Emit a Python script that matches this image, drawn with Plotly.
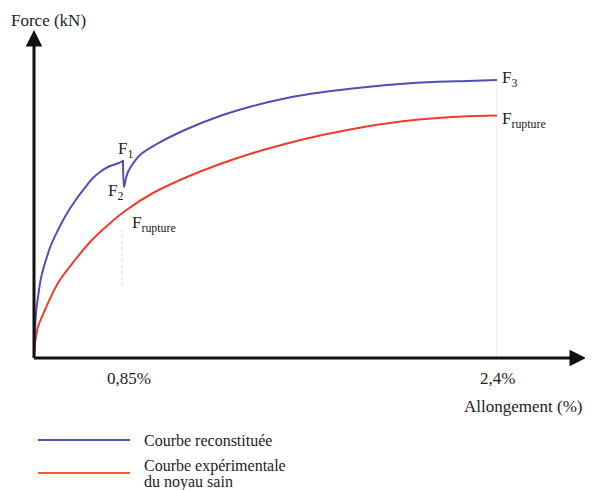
import plotly.graph_objects as go

# Schematic chart: x = allongement (schematic units), y = force (schematic units)
blue_x = [0, 1, 2, 4, 7, 11, 17, 24, 32, 41, 50, 58, 66, 74, 82, 88,
          89, 90, 92, 94, 98, 106, 121, 153, 186, 219, 253, 286, 333, 366, 399, 433, 463]
blue_y = [0, 25, 45, 61, 80, 95, 113, 128, 143, 157, 169, 179, 186, 191, 194, 196.5,
          198, 171, 180, 186, 193, 203, 213, 229, 242, 252, 260, 265.5, 271, 274, 276, 277, 278]

red_x = [0, 1, 4, 11, 24, 41, 58, 74, 91, 119, 153, 186, 219, 253, 286, 319, 352, 385, 418, 451, 463]
red_y = [0, 14, 31, 48, 75, 98, 118, 133, 147, 165, 181, 194, 205, 214.5, 222.5, 229, 234.5, 238.5, 241, 242.3, 242.5]

tick_pos = [88, 463]
tick_labels = ["0,85%", "2,4%"]

series_names = ["Courbe reconstituée", "Courbe expérimentale<br>du noyau sain"]
BLUE = "#4f4fb5"
RED = "#ec3c2c"
RED_LEG = "#f0602f"
FONT = "Liberation Serif"

# page body has an 8px margin: figure drawn at (8, 8) in the window
OFF = 8
W, H = 593 - OFF, 490 - OFF
X0, Y0 = 34 - OFF, 358 - OFF   # origin of the schematic axes, in figure pixels

fig = go.Figure()

# reference guide lines
fig.add_trace(go.Scatter(x=[tick_pos[1], tick_pos[1]], y=[0, red_y[-1] + 36], mode="lines",
                         line=dict(color="#e8e8e8", width=1), hoverinfo="skip", showlegend=False))
fig.add_trace(go.Scatter(x=[tick_pos[0], tick_pos[0]], y=[72, 128], mode="lines",
                         line=dict(color="#d0d0d0", width=1, dash="dot"), hoverinfo="skip", showlegend=False))

fig.add_trace(go.Scatter(x=red_x, y=red_y, mode="lines", line=dict(color=RED, width=2, shape="spline", smoothing=1.0),
                         name=series_names[1], showlegend=False))
fig.add_trace(go.Scatter(x=blue_x[:17], y=blue_y[:17], mode="lines", line=dict(color=BLUE, width=2, shape="spline", smoothing=1.0),
                         name=series_names[0], showlegend=False))
fig.add_trace(go.Scatter(x=blue_x[16:], y=blue_y[16:], mode="lines", line=dict(color=BLUE, width=2, shape="spline", smoothing=1.0),
                         name=series_names[0], showlegend=False))

ann = []
# axes with arrows
ann.append(dict(x=0, y=328, ax=0, ay=-1.5, xref="x", yref="y", axref="x", ayref="y",
                showarrow=True, arrowhead=2, arrowsize=1.1, arrowwidth=3, arrowcolor="#111", text=""))
ann.append(dict(x=552, y=0, ax=-1.5, ay=0, xref="x", yref="y", axref="x", ayref="y",
                showarrow=True, arrowhead=2, arrowsize=1.1, arrowwidth=3, arrowcolor="#111", text=""))

ann.append(dict(x=-25, y=338, xref="x", yref="y", text="Force (kN)", showarrow=False,
                xanchor="left", yanchor="middle", font=dict(family=FONT, size=17, color="#222")))
ann.append(dict(x=551, y=-48, xref="x", yref="y", text="Allongement (%)", showarrow=False,
                xanchor="right", yanchor="middle", font=dict(family=FONT, size=17, color="#222")))
for p, t, sh in zip(tick_pos, tick_labels, [7, 0]):
    ann.append(dict(x=p, y=-20, xref="x", yref="y", text=t, showarrow=False, xshift=sh,
                    xanchor="center", yanchor="middle", font=dict(family=FONT, size=17, color="#222")))

lab = dict(family=FONT, size=17, color="#222")
ann.append(dict(x=82, y=208, xref="x", yref="y", text="F<sub>1</sub>", showarrow=False, xanchor="left", yanchor="middle", font=lab))
ann.append(dict(x=72, y=166, xref="x", yref="y", text="F<sub>2</sub>", showarrow=False, xanchor="left", yanchor="middle", font=lab))
ann.append(dict(x=96, y=134, xref="x", yref="y", text="F<sub>rupture</sub>", showarrow=False, xanchor="left", yanchor="middle", font=lab))
ann.append(dict(x=466, y=279, xref="x", yref="y", text="F<sub>3</sub>", showarrow=False, xanchor="left", yanchor="middle", font=lab))
ann.append(dict(x=466, y=238, xref="x", yref="y", text="F<sub>rupture</sub>", showarrow=False, xanchor="left", yanchor="middle", font=lab))

# manual legend (paper coordinates, figure pixels)
def px(x):
    return (x - OFF) / W

def py(y):
    return 1 - (y - OFF) / H

shapes = [
    dict(type="line", xref="paper", yref="paper", x0=px(38), x1=px(130), y0=py(440), y1=py(440),
         line=dict(color=BLUE, width=2)),
    dict(type="line", xref="paper", yref="paper", x0=px(38), x1=px(130), y0=py(473), y1=py(473),
         line=dict(color=RED_LEG, width=2)),
]
legfont = dict(family=FONT, size=16, color="#222")
ann.append(dict(x=px(142), y=py(440), xref="paper", yref="paper", text=series_names[0], showarrow=False,
                xanchor="left", yanchor="middle", font=legfont))
for i, line in enumerate(series_names[1].split("<br>")):
    ann.append(dict(x=px(142), y=py(466 + 16 * i), xref="paper", yref="paper", text=line, showarrow=False,
                    xanchor="left", yanchor="middle", font=legfont))

fig.update_layout(
    width=W, height=H,
    margin=dict(l=0, r=0, t=0, b=0),
    paper_bgcolor="white", plot_bgcolor="white",
    xaxis=dict(range=[-X0, W - X0], visible=False, fixedrange=True),
    yaxis=dict(range=[Y0 - H, Y0], visible=False, fixedrange=True),
    annotations=ann, shapes=shapes,
    showlegend=False,
)

fig.write_html("out.html")
